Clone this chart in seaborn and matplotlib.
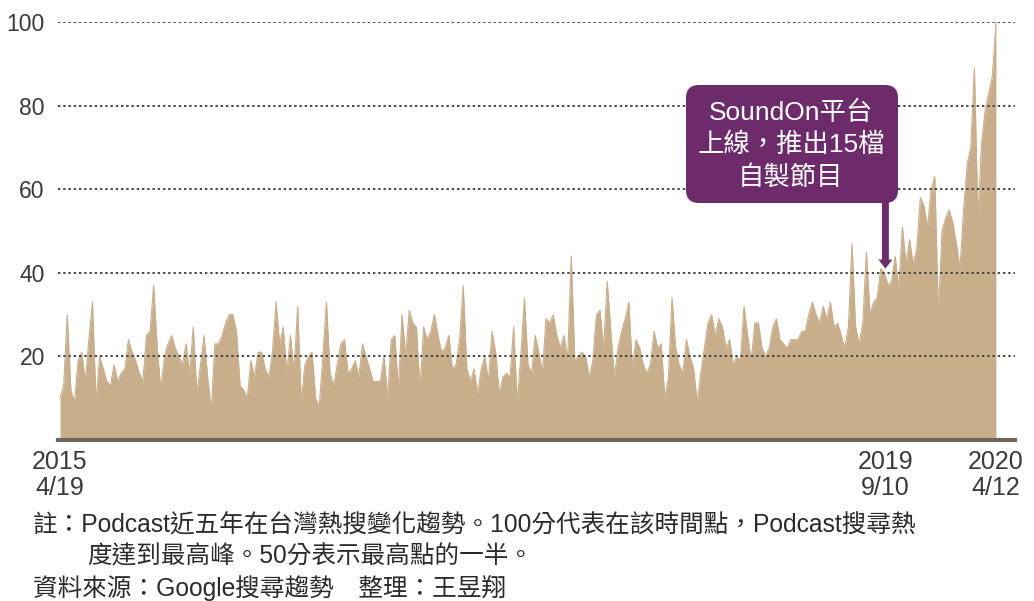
import matplotlib
matplotlib.use("Agg")
import matplotlib.pyplot as plt
import seaborn as sns
import pandas as pd
from matplotlib.patches import FancyBboxPatch

# Weekly Google Trends interest for "Podcast" in Taiwan (peak = 100)
start_date = "2015-04-19"
interest = [
    10, 13, 30, 12, 9, 19, 21, 14, 24, 33, 9, 20, 17, 14, 13, 18, 14, 16, 17, 24,
    21, 19, 16, 14, 25, 26, 37, 22, 12, 20, 23, 25, 22, 20, 18, 23, 16, 27, 11, 18,
    25, 15, 7, 23,
    23, 25, 28, 30, 30, 26, 13, 12, 10, 19, 15, 21, 21, 17, 15, 21, 33, 23, 27, 16,
    25, 16, 32, 9, 18, 20, 21, 10, 8, 20, 33, 16, 13, 18, 23, 24, 16, 17, 19, 15,
    23, 20, 17,
    14, 14, 14, 20, 10, 24, 25, 12, 30, 20, 31, 28, 27, 12, 27, 24, 26, 30, 25, 21,
    22, 25, 17, 18, 24, 37, 17, 14, 17, 11, 17, 20, 14, 26, 21, 11, 15, 16, 15, 27,
    9, 20, 34,
    18, 16, 25, 21, 16, 29, 28, 30, 25, 22, 25, 19, 44, 19, 20, 21, 20, 15, 19, 30,
    31, 22, 38, 26, 15, 22, 26, 29, 33, 17, 24, 22, 18, 16, 18, 26, 22, 23, 10, 15,
    34, 22,
    18, 16, 24, 20, 17, 9, 16, 22, 28, 30, 25, 29, 27, 22, 24, 18, 20, 19, 32, 25,
    19, 28, 28, 22, 20, 22, 27, 29, 24, 23, 22, 24, 24, 24, 26, 26, 30, 33, 30, 28,
    32, 29, 33,
    27, 28, 25, 22, 27, 47, 27, 23, 28, 45, 30, 33, 34, 41, 40, 37, 38, 44, 36, 51,
    42, 48, 42, 46, 58, 56, 51, 60, 63, 30, 50, 53, 55, 52, 47, 41, 55, 66, 70, 89,
    53, 71, 79, 83, 87, 100,
]

tick_dates = ["2015-04-19", "2019-09-10", "2020-04-12"]
tick_labels = ["2015\n4/19", "2019\n9/10", "2020\n4/12"]
y_ticks = [20, 40, 60, 80, 100]

callout_text = "SoundOn平台\n上線，推出15檔\n自製節目"
callout_date = "2019-09-10"
callout_value = 41

note_line1 = "註：Podcast近五年在台灣熱搜變化趨勢。100分代表在該時間點，Podcast搜尋熱"
note_line2 = "度達到最高峰。50分表示最高點的一半。"
source_line = "資料來源：Google搜尋趨勢　整理：王昱翔"

TAN = "#C9AE8B"
PURPLE = "#6D2B6B"
GRID = "#454545"
TEXT = "#2b2b2b"

sns.set_theme(style="white")
plt.rcParams["font.family"] = ["Liberation Sans", "Noto Sans CJK TC"]

W, H = 1034, 601
fig = plt.figure(figsize=(W / 100, H / 100), dpi=100)
ax = fig.add_axes([58 / W, (H - 440) / H, (1015 - 58) / W, (440 - 22) / H])

df = pd.DataFrame({
    "week": pd.date_range(start_date, periods=len(interest), freq="7D"),
    "interest": interest,
})

ax.fill_between(df["week"], df["interest"], 0, color=TAN, lw=0, zorder=1)
sns.lineplot(data=df, x="week", y="interest", ax=ax, color=TAN, lw=0.8, zorder=1)

for v in y_ticks:
    ax.axhline(v, color=GRID, lw=1.4, ls=(0, (1.2, 1.5)), zorder=2)

t0 = pd.Timestamp(start_date)
ax.set_xlim(t0 - pd.Timedelta(days=4), t0 + pd.Timedelta(days=1857))
ax.set_ylim(0, 100)

ax.set_yticks(y_ticks)
ax.set_yticklabels([str(v) for v in y_ticks])
ax.set_xticks(pd.to_datetime(tick_dates))
ax.set_xticklabels(tick_labels, linespacing=1.1)
ax.tick_params(axis="y", length=0, pad=9.5, labelsize=16.5, labelcolor="#3a3a3a")
ax.tick_params(axis="x", length=0, pad=7, labelsize=18, labelcolor="#3a3a3a")
ax.set_xlabel("")
ax.set_ylabel("")

for side in ("left", "right", "top"):
    ax.spines[side].set_visible(False)
ax.spines["bottom"].set_color("#6f655c")
ax.spines["bottom"].set_linewidth(3)
ax.spines["bottom"].set_zorder(3)

# Callout box with arrow pointing at the SoundOn launch
box = FancyBboxPatch((6.86, (H - 203) / 100), 2.12, 1.18,
                     boxstyle="round,pad=0,rounding_size=0.13",
                     transform=fig.dpi_scale_trans, fc=PURPLE, ec="none", zorder=5)
fig.add_artist(box)
fig.text(7.91, (H - 145) / 100, callout_text, transform=fig.dpi_scale_trans,
         ha="center", va="center", color="white", fontsize=19, linespacing=1.38,
         zorder=6)
ax.annotate("", xy=(pd.Timestamp(callout_date), callout_value),
            xytext=(pd.Timestamp(callout_date), 58),
            arrowprops=dict(arrowstyle="simple,head_length=0.65,head_width=1.0,tail_width=0.5",
                            mutation_scale=10, fc=PURPLE, ec="none", shrinkA=0, shrinkB=0),
            zorder=6)

# Footnotes
fig.text(33 / W, 1 - 525 / H, note_line1, ha="left", va="center", fontsize=17.7, color=TEXT)
fig.text(87 / W, 1 - 556 / H, note_line2, ha="left", va="center", fontsize=17.7, color=TEXT)
fig.text(33 / W, 1 - 588 / H, source_line, ha="left", va="center", fontsize=17.7, color=TEXT)

fig.savefig("out.png", dpi=100)
